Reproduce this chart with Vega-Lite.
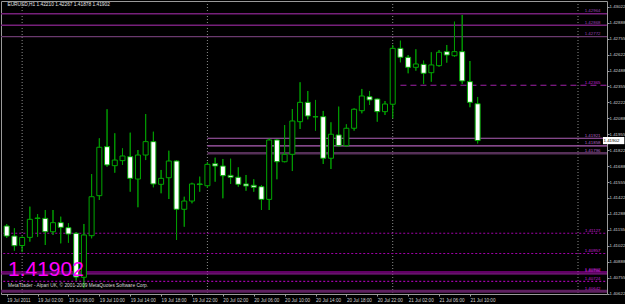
{
  "$schema": "https://vega.github.io/schema/vega-lite/v6.json",
  "width": 606,
  "height": 293,
  "autosize": {"type": "none"},
  "padding": {"left": 1, "top": 1, "right": 18, "bottom": 10},
  "background": "#000000",
  "config": {
    "view": {"stroke": "#9a9a9a", "strokeWidth": 1},
    "font": "Liberation Sans",
    "axis": {"labelColor": "#d0d0d0", "tickColor": "#a0a0a0", "grid": false, "labelFont": "Liberation Sans", "tickSize": 2, "labelPadding": 1, "domain": false, "labelOverlap": false, "labelFlush": false, "labelSeparation": 0, "tickCount": 40},
    "axisY": {"labelOverlap": false, "labelFontSize": 4.4, "labelPadding": 0},
    "axisX": {"labelOverlap": false, "labelFontSize": 4.6}
  },
  "datasets": {
    "bars": [
      {"t":"2011-07-18T22:00:00Z","o":1.41187,"h":1.41204,"l":1.41087,"c":1.41103},
      {"t":"2011-07-18T23:00:00Z","o":1.41103,"h":1.41168,"l":1.40980,"c":1.41022},
      {"t":"2011-07-19T00:00:00Z","o":1.41024,"h":1.41099,"l":1.40969,"c":1.41091},
      {"t":"2011-07-19T01:00:00Z","o":1.41092,"h":1.41349,"l":1.41056,"c":1.41243},
      {"t":"2011-07-19T02:00:00Z","o":1.41250,"h":1.41287,"l":1.41097,"c":1.41254},
      {"t":"2011-07-19T03:00:00Z","o":1.41251,"h":1.41321,"l":1.41028,"c":1.41139},
      {"t":"2011-07-19T04:00:00Z","o":1.41139,"h":1.41321,"l":1.41112,"c":1.41215},
      {"t":"2011-07-19T05:00:00Z","o":1.41215,"h":1.41265,"l":1.41042,"c":1.41176},
      {"t":"2011-07-19T06:00:00Z","o":1.41173,"h":1.41210,"l":1.41047,"c":1.41120},
      {"t":"2011-07-19T07:00:00Z","o":1.41126,"h":1.41137,"l":1.40729,"c":1.40760},
      {"t":"2011-07-19T08:00:00Z","o":1.40758,"h":1.41204,"l":1.40671,"c":1.41112},
      {"t":"2011-07-19T09:00:00Z","o":1.41106,"h":1.41622,"l":1.41084,"c":1.41432},
      {"t":"2011-07-19T10:00:00Z","o":1.41441,"h":1.41921,"l":1.41405,"c":1.41846},
      {"t":"2011-07-19T11:00:00Z","o":1.41851,"h":1.42164,"l":1.41683,"c":1.41698},
      {"t":"2011-07-19T12:00:00Z","o":1.41692,"h":1.41963,"l":1.41633,"c":1.41739},
      {"t":"2011-07-19T13:00:00Z","o":1.41734,"h":1.41837,"l":1.41698,"c":1.41773},
      {"t":"2011-07-19T14:00:00Z","o":1.41767,"h":1.41968,"l":1.41474,"c":1.41586},
      {"t":"2011-07-19T15:00:00Z","o":1.41580,"h":1.41823,"l":1.41344,"c":1.41781},
      {"t":"2011-07-19T16:00:00Z","o":1.41781,"h":1.42124,"l":1.41739,"c":1.41893},
      {"t":"2011-07-19T17:00:00Z","o":1.41893,"h":1.41976,"l":1.41511,"c":1.41539},
      {"t":"2011-07-19T18:00:00Z","o":1.41536,"h":1.41656,"l":1.41461,"c":1.41586},
      {"t":"2011-07-19T19:00:00Z","o":1.41591,"h":1.41817,"l":1.41413,"c":1.41731},
      {"t":"2011-07-19T20:00:00Z","o":1.41731,"h":1.41739,"l":1.41070,"c":1.41327},
      {"t":"2011-07-19T21:00:00Z","o":1.41327,"h":1.41432,"l":1.41181,"c":1.41396},
      {"t":"2011-07-19T22:00:00Z","o":1.41396,"h":1.41549,"l":1.41377,"c":1.41539},
      {"t":"2011-07-19T23:00:00Z","o":1.41539,"h":1.41600,"l":1.41474,"c":1.41534},
      {"t":"2011-07-20T00:00:00Z","o":1.41524,"h":1.41723,"l":1.41505,"c":1.41703},
      {"t":"2011-07-20T01:00:00Z","o":1.41708,"h":1.41759,"l":1.41558,"c":1.41689},
      {"t":"2011-07-20T02:00:00Z","o":1.41689,"h":1.41748,"l":1.41419,"c":1.41608},
      {"t":"2011-07-20T03:00:00Z","o":1.41611,"h":1.41750,"l":1.41539,"c":1.41595},
      {"t":"2011-07-20T04:00:00Z","o":1.41595,"h":1.41678,"l":1.41516,"c":1.41536},
      {"t":"2011-07-20T05:00:00Z","o":1.41539,"h":1.41614,"l":1.41482,"c":1.41522},
      {"t":"2011-07-20T06:00:00Z","o":1.41528,"h":1.41578,"l":1.41474,"c":1.41511},
      {"t":"2011-07-20T07:00:00Z","o":1.41516,"h":1.41530,"l":1.41321,"c":1.41410},
      {"t":"2011-07-20T08:00:00Z","o":1.41410,"h":1.41921,"l":1.41321,"c":1.41907},
      {"t":"2011-07-20T09:00:00Z","o":1.41907,"h":1.41913,"l":1.41578,"c":1.41725},
      {"t":"2011-07-20T10:00:00Z","o":1.41725,"h":1.42032,"l":1.41720,"c":1.41787},
      {"t":"2011-07-20T11:00:00Z","o":1.41787,"h":1.42166,"l":1.41647,"c":1.42066},
      {"t":"2011-07-20T12:00:00Z","o":1.42060,"h":1.42390,"l":1.41999,"c":1.42222},
      {"t":"2011-07-20T13:00:00Z","o":1.42222,"h":1.42317,"l":1.42080,"c":1.42108},
      {"t":"2011-07-20T14:00:00Z","o":1.42102,"h":1.42242,"l":1.41985,"c":1.42100},
      {"t":"2011-07-20T15:00:00Z","o":1.42102,"h":1.42150,"l":1.41706,"c":1.41754},
      {"t":"2011-07-20T16:00:00Z","o":1.41754,"h":1.42055,"l":1.41664,"c":1.41955},
      {"t":"2011-07-20T17:00:00Z","o":1.41949,"h":1.42186,"l":1.41851,"c":1.41859},
      {"t":"2011-07-20T18:00:00Z","o":1.41859,"h":1.42038,"l":1.41851,"c":1.42005},
      {"t":"2011-07-20T19:00:00Z","o":1.42005,"h":1.42172,"l":1.41985,"c":1.42164},
      {"t":"2011-07-20T20:00:00Z","o":1.42152,"h":1.42334,"l":1.42130,"c":1.42275},
      {"t":"2011-07-20T21:00:00Z","o":1.42269,"h":1.42317,"l":1.42200,"c":1.42242},
      {"t":"2011-07-20T22:00:00Z","o":1.42250,"h":1.42254,"l":1.42060,"c":1.42144},
      {"t":"2011-07-20T23:00:00Z","o":1.42144,"h":1.42233,"l":1.42116,"c":1.42208},
      {"t":"2011-07-21T00:00:00Z","o":1.42206,"h":1.42702,"l":1.42088,"c":1.42674},
      {"t":"2011-07-21T01:00:00Z","o":1.42674,"h":1.42738,"l":1.42557,"c":1.42599},
      {"t":"2011-07-21T02:00:00Z","o":1.42599,"h":1.42618,"l":1.42465,"c":1.42515},
      {"t":"2011-07-21T03:00:00Z","o":1.42515,"h":1.42666,"l":1.42487,"c":1.42543},
      {"t":"2011-07-21T04:00:00Z","o":1.42540,"h":1.42571,"l":1.42376,"c":1.42465},
      {"t":"2011-07-21T05:00:00Z","o":1.42470,"h":1.42641,"l":1.42395,"c":1.42535},
      {"t":"2011-07-21T06:00:00Z","o":1.42529,"h":1.42660,"l":1.42520,"c":1.42641},
      {"t":"2011-07-21T07:00:00Z","o":1.42646,"h":1.42702,"l":1.42554,"c":1.42618},
      {"t":"2011-07-21T08:00:00Z","o":1.42612,"h":1.42897,"l":1.42604,"c":1.42646},
      {"t":"2011-07-21T09:00:00Z","o":1.42646,"h":1.42953,"l":1.42376,"c":1.42401},
      {"t":"2011-07-21T10:00:00Z","o":1.42395,"h":1.42568,"l":1.42181,"c":1.42222},
      {"t":"2011-07-21T11:00:00Z","o":1.42210,"h":1.42267,"l":1.41878,"c":1.41902}
    ],
    "days": [
      {"d":"2011-07-19T00:00:00Z"},
      {"d":"2011-07-20T00:00:00Z"},
      {"d":"2011-07-21T00:00:00Z"},
      {"d":"2011-07-22T00:00:00Z"}
    ],
    "lines": [
      {"p":1.42964,"from":"2011-07-18T20:00:00Z","kind":"k1"},
      {"p":1.42868,"from":"2011-07-18T20:00:00Z","kind":"k1"},
      {"p":1.42772,"from":"2011-07-18T20:00:00Z","kind":"k2"},
      {"p":1.42365,"from":"2011-07-21T01:00:00Z","kind":"dash"},
      {"p":1.41921,"from":"2011-07-20T00:00:00Z","kind":"pink"},
      {"p":1.41858,"from":"2011-07-20T00:00:00Z","kind":"pink"},
      {"p":1.41796,"from":"2011-07-20T00:00:00Z","kind":"dark"},
      {"p":1.41127,"from":"2011-07-18T20:00:00Z","kind":"dot"},
      {"p":1.40957,"from":"2011-07-18T20:00:00Z","kind":"dot"},
      {"p":1.40802,"from":"2011-07-18T20:00:00Z","kind":"mag"},
      {"p":1.40786,"from":"2011-07-18T20:00:00Z","kind":"pur"},
      {"p":1.40724,"from":"2011-07-18T20:00:00Z","kind":"dot"},
      {"p":1.40642,"from":"2011-07-18T20:00:00Z","kind":"thick"}
    ],
    "one": [{}]
  },
  "layer": [
    {
      "data": {"name": "bars"},
      "mark": {"type": "rule", "color": "#009a00", "strokeWidth": 1, "clip": true},
      "encoding": {
        "x": {"field": "t", "type": "temporal", "title": null,
              "scale": {"type": "utc", "domain": [{"year":2011,"month":7,"date":18,"hours":21,"minutes":54,"seconds":39,"utc":true},{"year":2011,"month":7,"date":22,"hours":3,"minutes":6,"seconds":30,"utc":true}]},
              "axis": {"title": null, "orient": "bottom", "tickCount": 40,
                       "values": [
                         {"year":2011,"month":7,"date":18,"hours":22,"utc":true},
                         {"year":2011,"month":7,"date":19,"hours":2,"utc":true},
                         {"year":2011,"month":7,"date":19,"hours":6,"utc":true},
                         {"year":2011,"month":7,"date":19,"hours":10,"utc":true},
                         {"year":2011,"month":7,"date":19,"hours":14,"utc":true},
                         {"year":2011,"month":7,"date":19,"hours":18,"utc":true},
                         {"year":2011,"month":7,"date":19,"hours":22,"utc":true},
                         {"year":2011,"month":7,"date":20,"hours":2,"utc":true},
                         {"year":2011,"month":7,"date":20,"hours":6,"utc":true},
                         {"year":2011,"month":7,"date":20,"hours":10,"utc":true},
                         {"year":2011,"month":7,"date":20,"hours":14,"utc":true},
                         {"year":2011,"month":7,"date":20,"hours":18,"utc":true},
                         {"year":2011,"month":7,"date":20,"hours":22,"utc":true},
                         {"year":2011,"month":7,"date":21,"hours":2,"utc":true},
                         {"year":2011,"month":7,"date":21,"hours":6,"utc":true},
                         {"year":2011,"month":7,"date":21,"hours":10,"utc":true}
                       ],
                       "labelExpr": "utcdate(datum.value) == 18 ? '19 Jul 2011' : utcFormat(datum.value, '%d %b %H:%M')",
                       "labelAlign": "left", "labelBaseline": "top", "labelFontSize": 4.6, "labelOverlap": false, "labelFlush": false}},
        "y": {"field": "l", "type": "quantitative", "title": null,
              "scale": {"domain": [1.40618, 1.4307], "nice": false, "zero": false},
              "axis": {"title": null, "orient": "right", "tickCount": 40,
                       "values": [1.43022, 1.42888, 1.42755, 1.42622, 1.42488, 1.42355, 1.42222, 1.42088, 1.41955, 1.41822, 1.41688, 1.41555, 1.41422, 1.41288, 1.41155, 1.41022, 1.40888, 1.40755, 1.40622],
                       "format": ".5f", "labelFontSize": 4.4, "labelPadding": 0, "labelOverlap": false, "labelFlush": false}},
        "y2": {"field": "h"}
      }
    },
    {
      "data": {"name": "days"},
      "mark": {"type": "rule", "color": "#8c8c8c", "strokeDash": [1, 2], "strokeWidth": 1},
      "encoding": {
        "x": {"field": "d", "type": "temporal", "title": null}
      }
    },
    {
      "data": {"name": "lines"},
      "mark": {"type": "rule", "clip": true},
      "encoding": {
        "x": {"field": "from", "type": "temporal", "title": null},
        "x2": {"datum": {"year":2011,"month":7,"date":22,"hours":6,"utc":true}},
        "y": {"field": "p", "type": "quantitative", "title": null},
        "color": {"condition": [
          {"test": "datum.kind=='k1'", "value": "#76207a"},
          {"test": "datum.kind=='k2'", "value": "#6a3a6e"},
          {"test": "datum.kind=='dash'", "value": "#a020a8"},
          {"test": "datum.kind=='pink'", "value": "#b060b8"},
          {"test": "datum.kind=='dark'", "value": "#563058"},
          {"test": "datum.kind=='dot'", "value": "#a000a8"},
          {"test": "datum.kind=='mag'", "value": "#c000c8"},
          {"test": "datum.kind=='pur'", "value": "#8a1a90"}
        ], "value": "#5e2060"},
        "strokeWidth": {"condition": [
          {"test": "datum.kind=='thick'", "value": 3},
          {"test": "datum.kind=='dark'", "value": 2.5},
          {"test": "datum.kind=='k1'", "value": 1.5}
        ], "value": 1.1},
        "strokeDash": {"condition": [
          {"test": "datum.kind=='dash'", "value": [6, 4]},
          {"test": "datum.kind=='dot'", "value": [2, 2]}
        ], "value": [1, 0]}
      }
    },
    {
      "data": {"name": "lines"},
      "mark": {"type": "text", "align": "right", "baseline": "bottom", "dy": -0.5, "fontSize": 4.4},
      "encoding": {
        "x": {"datum": {"year":2011,"month":7,"date":22,"hours":2,"minutes":55,"utc":true}, "type": "temporal", "title": null},
        "y": {"field": "p", "type": "quantitative", "title": null},
        "text": {"field": "p", "type": "quantitative", "format": ".5f"},
        "color": {"condition": [
          {"test": "datum.kind=='k1' || datum.kind=='k2'", "value": "#9a40b0"},
          {"test": "datum.kind=='pink' || datum.kind=='dark'", "value": "#b060c0"}
        ], "value": "#c020d0"}
      }
    },
    {
      "data": {"name": "bars"},
      "mark": {"type": "rule", "color": "#009a00", "strokeWidth": 1, "clip": true},
      "encoding": {
        "x": {"field": "t", "type": "temporal", "title": null},
        "y": {"field": "l", "type": "quantitative", "title": null},
        "y2": {"field": "h"}
      }
    },
    {
      "data": {"name": "bars"},
      "mark": {"type": "bar", "size": 5, "stroke": "#00a800", "strokeWidth": 1, "clip": true},
      "encoding": {
        "x": {"field": "t", "type": "temporal", "title": null},
        "y": {"field": "o", "type": "quantitative", "title": null},
        "y2": {"field": "c"},
        "fill": {"condition": {"test": "datum.c < datum.o", "value": "#ffffff"}, "value": "#000000"}
      }
    },
    {
      "data": {"name": "one"},
      "mark": {"type": "text", "text": "EURUSD,H1  1.42210 1.42267 1.41878 1.41902", "align": "left", "baseline": "middle", "fontSize": 4.8, "color": "#e6e6e6"},
      "encoding": {
        "x": {"datum": {"year":2011,"month":7,"date":18,"hours":22,"minutes":6,"utc":true}, "type": "temporal", "title": null},
        "y": {"datum": 1.43037, "type": "quantitative", "title": null}
      }
    },
    {
      "data": {"name": "one"},
      "mark": {"type": "text", "text": "1.41902", "align": "left", "baseline": "alphabetic", "fontSize": 21, "color": "#ff00ff"},
      "encoding": {
        "x": {"datum": {"year":2011,"month":7,"date":18,"hours":22,"minutes":10,"utc":true}, "type": "temporal", "title": null},
        "y": {"datum": 1.40768, "type": "quantitative", "title": null}
      }
    },
    {
      "data": {"name": "one"},
      "mark": {"type": "text", "text": "MetaTrader - Alpari UK, © 2001-2009 MetaQuotes Software Corp.", "align": "left", "baseline": "alphabetic", "fontSize": 4.8, "color": "#d8d8d8"},
      "encoding": {
        "x": {"datum": {"year":2011,"month":7,"date":18,"hours":22,"minutes":10,"utc":true}, "type": "temporal", "title": null},
        "y": {"datum": 1.40676, "type": "quantitative", "title": null}
      }
    },
    {
      "data": {"name": "one"},
      "mark": {"type": "rect", "color": "#ffffff", "clip": false},
      "encoding": {
        "x": {"datum": {"year":2011,"month":7,"date":22,"hours":3,"minutes":14,"utc":true}, "type": "temporal", "title": null},
        "x2": {"datum": {"year":2011,"month":7,"date":22,"hours":6,"utc":true}},
        "y": {"datum": 1.41932, "type": "quantitative", "title": null},
        "y2": {"datum": 1.41872}
      }
    },
    {
      "data": {"name": "one"},
      "mark": {"type": "text", "text": "1.41902", "align": "left", "baseline": "middle", "fontSize": 4.4, "color": "#000000", "clip": false},
      "encoding": {
        "x": {"datum": {"year":2011,"month":7,"date":22,"hours":3,"minutes":18,"utc":true}, "type": "temporal", "title": null},
        "y": {"datum": 1.41902, "type": "quantitative", "title": null}
      }
    }
  ]
}
